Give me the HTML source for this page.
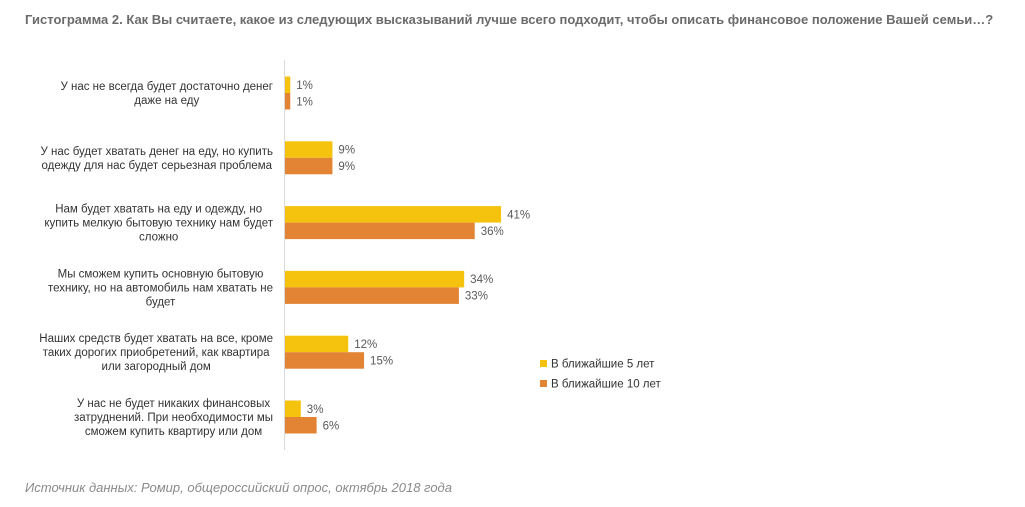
<!DOCTYPE html>
<html><head><meta charset="utf-8"><style>
body{margin:0;background:#fff;font-family:"Liberation Sans",sans-serif;}
#wrap{position:relative;width:1025px;height:507px;overflow:hidden;}
.t{position:absolute;white-space:nowrap;}
</style></head><body>
<div id="wrap">
<div class="t" style="left:25px;top:12px;font-size:13px;font-weight:bold;color:#6b6b6b;">Гистограмма 2. Как Вы считаете, какое из следующих высказываний лучше всего подходит, чтобы описать финансовое положение Вашей семьи…?</div>
<svg id="chart" width="1025" height="507" style="position:absolute;left:0;top:0"></svg>
<div class="t" style="left:25px;top:480px;font-size:13px;font-style:italic;color:#8a8a8a;">Источник данных: Ромир, общероссийский опрос, октябрь 2018 года</div>
</div>
<script>
const categories=[
["У нас не всегда будет достаточно денег","даже на еду"],
["У нас будет хватать денег на еду, но купить","одежду для нас будет серьезная проблема"],
["Нам будет хватать на еду и одежду, но","купить мелкую бытовую технику нам будет","сложно"],
["Мы сможем купить основную бытовую","технику, но на автомобиль нам хватать не","будет"],
["Наших средств будет хватать на все, кроме","таких дорогих приобретений, как квартира","или загородный дом"],
["У нас не будет никаких финансовых","затруднений. При необходимости мы","сможем купить квартиру или дом"]];
const series5=[1,9,41,34,12,3];
const series10=[1,9,36,33,15,6];
const seriesNames=["В ближайшие 5 лет","В ближайшие 10 лет"];
const colors=["#f5c30d","#e38334"];
const svg=document.getElementById('chart');
const NS='http://www.w3.org/2000/svg';
const x0=285,pxPer=5.27,top0=93,step=64.8,bh=16.5;
const xs=v=>v*pxPer;
const yc=i=>top0+i*step;
function mk(tag,attrs){const e=document.createElementNS(NS,tag);for(const k in attrs)e.setAttribute(k,attrs[k]);svg.appendChild(e);return e;}
const ax=mk('line',{x1:x0-0.5,x2:x0-0.5,y1:60,y2:450,stroke:'#d9d9d9','stroke-width':1});


categories.forEach((lines,i)=>{
  const c=yc(i);
  const n=lines.length;
  const els=lines.map((ln,j)=>{
    const t=mk('text',{x:273,y:c+4+(j-(n-1)/2)*14,'text-anchor':'middle','font-size':'11.5','fill':'#333','font-family':'Liberation Sans, sans-serif'});
    t.textContent=ln;
    
    
    return t;
  });
  const maxW=Math.max(...els.map(e=>e.getComputedTextLength()));
  els.forEach(e=>e.setAttribute('x',273-maxW/2));
  [series5,series10].forEach((s,k)=>{
    const y=k===0?c-bh:c;
    const r=mk('rect',{x:x0,y:y,width:xs(s[i]),height:bh,fill:colors[k]});
    
    
    const t=mk('text',{x:x0+xs(s[i])+6,y:y+bh/2+4,'font-size':'11.5','fill':'#595959','font-family':'Liberation Sans, sans-serif'});
    t.textContent=s[i]+'%';
    
    
  });
});
seriesNames.forEach((nm,k)=>{
  const y=364+k*20;
  const r=mk('rect',{x:540,y:y-4,width:7,height:7,fill:colors[k]});
  
  
  const t=mk('text',{x:551,y:y+3.5,'font-size':'11.5','fill':'#333','font-family':'Liberation Sans, sans-serif'});
  t.textContent=nm;
  
  
});
</script>
</body></html>
